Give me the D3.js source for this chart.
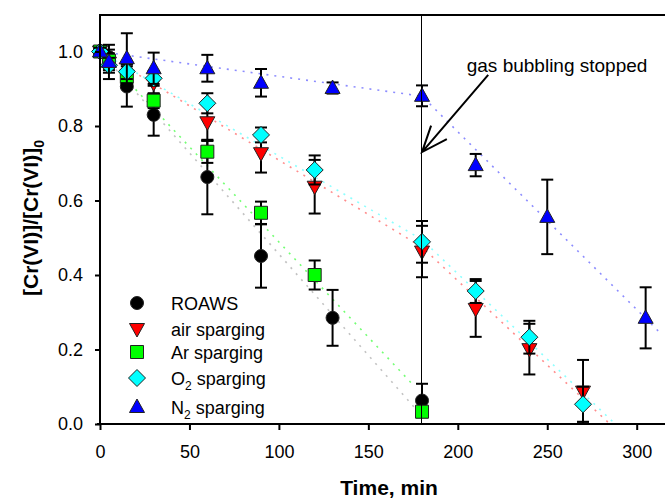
<!DOCTYPE html>
<html>
<head>
<meta charset="utf-8">
<script src="https://cdn.jsdelivr.net/npm/d3@7"></script>
<style>
  html, body { margin: 0; padding: 0; background: #fff; }
  svg { display: block; font-family: "Liberation Sans", Arial, sans-serif; }
</style>
</head>
<body>
<svg id="chart" width="665" height="500"></svg>
<script>
// Cr(VI) reduction under different sparging gases: normalised concentration vs. time

const seriesNames = ["ROAWS", "air sparging", "Ar sparging", "O2 sparging", "N2 sparging"];
const seriesColors = ["#000000", "#ff0000", "#00ff00", "#00ffff", "#0000ff"];
const seriesShapes = ["circle", "triangleDown", "square", "diamond", "triangleUp"];

// measured points (time in min, C/C0, error half-width)
const timeROAWS = [0, 5, 15, 30, 60, 90, 130, 180];
const valROAWS  = [1.0, 0.985, 0.906, 0.83, 0.663, 0.451, 0.285, 0.063];
const errROAWS  = [0.01, 0.02, 0.054, 0.056, 0.10, 0.085, 0.075, 0.045];

const timeAir = [0, 5, 15, 30, 60, 90, 120, 180, 210, 240, 270];
const valAir  = [1.0, 0.97, 0.935, 0.915, 0.81, 0.727, 0.637, 0.463, 0.309, 0.201, 0.087];
const errAir  = [0.01, 0.02, 0.03, 0.03, 0.05, 0.052, 0.072, 0.069, 0.075, 0.068, 0.085];

const timeAr = [0, 5, 15, 30, 60, 90, 120, 180];
const valAr  = [1.0, 0.975, 0.932, 0.868, 0.731, 0.567, 0.40, 0.033];
const errAr  = [0.01, 0.02, 0.02, 0.02, 0.03, 0.03, 0.039, 0.012];

const timeO2 = [0, 5, 15, 30, 60, 90, 120, 180, 210, 240, 270];
const valO2  = [1.0, 0.963, 0.946, 0.928, 0.861, 0.776, 0.682, 0.489, 0.357, 0.233, 0.053];
const errO2  = [0.01, 0.02, 0.02, 0.02, 0.027, 0.02, 0.039, 0.056, 0.032, 0.044, 0.047];

const timeN2 = [0, 5, 15, 30, 60, 90, 130, 180, 210, 250, 305];
const valN2  = [1.0, 0.972, 0.982, 0.955, 0.955, 0.916, 0.902, 0.881, 0.695, 0.556, 0.285];
const errN2  = [0.01, 0.046, 0.067, 0.042, 0.036, 0.037, 0.015, 0.028, 0.03, 0.1, 0.082];

// fitted trend lines (time, C/C0)
const fitTimeROAWS = [0, 176];       const fitValROAWS = [1.0, 0.043];
const fitTimeAir   = [0, 180, 285];  const fitValAir   = [1.0, 0.475, 0.0];
const fitTimeAr    = [0, 176];       const fitValAr    = [1.0, 0.10];
const fitTimeO2    = [0, 180, 288];  const fitValO2    = [1.0, 0.495, 0.0];
const fitTimeN2    = [0, 180, 312];  const fitValN2    = [1.0, 0.88, 0.25];

const xTicks = [0, 50, 100, 150, 200, 250, 300];
const yTicks = [0.0, 0.2, 0.4, 0.6, 0.8, 1.0];

const stopTime = 180;
const annotationText = "gas bubbling stopped";
const annotationTextPos = [205, 0.945];
const arrowFrom = [217, 0.937];
const arrowTo = [180, 0.73];

const series = [
  { t: timeROAWS, v: valROAWS, e: errROAWS, ft: fitTimeROAWS, fv: fitValROAWS },
  { t: timeAir,   v: valAir,   e: errAir,   ft: fitTimeAir,   fv: fitValAir },
  { t: timeAr,    v: valAr,    e: errAr,    ft: fitTimeAr,    fv: fitValAr },
  { t: timeO2,    v: valO2,    e: errO2,    ft: fitTimeO2,    fv: fitValO2 },
  { t: timeN2,    v: valN2,    e: errN2,    ft: fitTimeN2,    fv: fitValN2 }
].map((s, i) => ({
  name: seriesNames[i], color: seriesColors[i], shape: seriesShapes[i],
  points: s.t.map((t, j) => ({ t, v: s.v[j], e: s.e[j] })),
  fit: s.ft.map((t, j) => ({ t, v: s.fv[j] }))
}));

const svg = d3.select("#chart");
const plotLeft = 100, plotTop = 15, plotBottom = 424;
const x = d3.scaleLinear().domain([0, 320]).range([plotLeft, plotLeft + 320 * (536.7 / 300)]);
const y = d3.scaleLinear().domain([0, 1.1]).range([plotBottom, plotBottom - 1.1 * 372.5]);

// marker path generator
function markerPath(shape) {
  switch (shape) {
    case "circle": return d3.symbol(d3.symbolCircle, Math.PI * 6.5 * 6.5)();
    case "square": return "M-6.5,-6.5H6.5V6.5H-6.5Z";
    case "diamond": return "M0,-8.5L8.5,0L0,8.5L-8.5,0Z";
    case "triangleUp": return "M0,-8L7.5,5.5L-7.5,5.5Z";
    case "triangleDown": return "M0,8L7.5,-5.5L-7.5,-5.5Z";
  }
}

// trend lines
const line = d3.line().x(d => x(d.t)).y(d => y(d.v));
const fits = svg.append("g").attr("class", "fits");
series.forEach((s, i) => {
  fits.append("path")
    .datum(s.fit)
    .attr("d", line)
    .attr("fill", "none")
    .attr("stroke", s.color === "#000000" ? "#777" : s.color)
    .attr("stroke-opacity", s.color === "#00ff00" ? 0.55 : 0.45)
    .attr("stroke-width", 1.6)
    .attr("stroke-dasharray", "2,6")
    .attr("stroke-dashoffset", i * 2);
});

// error bars and markers
series.forEach(s => {
  const g = svg.append("g").attr("class", "series");
  const eb = g.selectAll("g.eb").data(s.points).join("g").attr("class", "eb")
    .attr("stroke", "#000").attr("stroke-width", 2);
  eb.append("line")
    .attr("x1", d => x(d.t)).attr("x2", d => x(d.t))
    .attr("y1", d => y(d.v + d.e)).attr("y2", d => y(d.v - d.e));
  eb.append("line")
    .attr("x1", d => x(d.t) - 6).attr("x2", d => x(d.t) + 6)
    .attr("y1", d => y(d.v + d.e)).attr("y2", d => y(d.v + d.e));
  eb.append("line")
    .attr("x1", d => x(d.t) - 6).attr("x2", d => x(d.t) + 6)
    .attr("y1", d => y(d.v - d.e)).attr("y2", d => y(d.v - d.e));
  g.selectAll("path.mk").data(s.points).join("path").attr("class", "mk")
    .attr("d", markerPath(s.shape))
    .attr("transform", d => `translate(${x(d.t)},${y(d.v)})`)
    .attr("fill", s.color)
    .attr("stroke", "#222")
    .attr("stroke-width", 1);
});

// vertical marker where gas bubbling stopped
svg.append("line")
  .attr("x1", Math.round(x(stopTime)) - 0.5).attr("x2", Math.round(x(stopTime)) - 0.5)
  .attr("y1", plotTop).attr("y2", plotBottom)
  .attr("stroke", "#000").attr("stroke-width", 1);

// axes
const xAxis = svg.append("g")
  .attr("transform", `translate(0,${plotBottom})`)
  .call(d3.axisBottom(x).tickValues(xTicks).tickSize(6).tickSizeOuter(0).tickPadding(15).tickFormat(d3.format("d")));
const yAxis = svg.append("g")
  .attr("transform", `translate(${plotLeft},0)`)
  .call(d3.axisLeft(y).tickValues(yTicks).tickSize(5).tickSizeOuter(0).tickPadding(12).tickFormat(d3.format(".1f")));
[xAxis, yAxis].forEach(a => {
  a.select(".domain").attr("stroke", "#000").attr("stroke-width", 2);
  a.selectAll(".tick line").attr("stroke", "#000").attr("stroke-width", 2);
  a.selectAll(".tick text").attr("fill", "#000").style("font-size", "18px")
    .style("font-family", "'Liberation Sans', Arial, sans-serif");
});
xAxis.select(".domain").attr("d", `M${plotLeft - 3},0H665`);
yAxis.select(".domain").attr("d", `M0,${plotBottom + 1}V${plotTop}`);

// top frame
svg.append("line")
  .attr("x1", plotLeft - 1).attr("x2", 665)
  .attr("y1", plotTop).attr("y2", plotTop)
  .attr("stroke", "#000").attr("stroke-width", 2);

// axis titles
svg.append("text")
  .attr("x", 389).attr("y", 495)
  .attr("text-anchor", "middle")
  .style("font-size", "21px").style("font-weight", "bold")
  .text("Time, min");

const yl = svg.append("text")
  .attr("transform", "translate(38,218) rotate(-90)")
  .attr("text-anchor", "middle")
  .style("font-size", "21px").style("font-weight", "bold");
yl.append("tspan").text("[Cr(VI)]/[Cr(VI)]");
yl.append("tspan").attr("dy", 6).style("font-size", "14px").text("0");

// annotation with arrow
svg.append("text")
  .attr("x", x(annotationTextPos[0])).attr("y", y(annotationTextPos[1]))
  .style("font-size", "19px")
  .text(annotationText);

const ax0 = x(arrowFrom[0]), ay0 = y(arrowFrom[1]);
const ax1 = x(arrowTo[0]), ay1 = y(arrowTo[1]);
const ang = Math.atan2(ay1 - ay0, ax1 - ax0);
const headLen = 28, headAng = 0.38;
svg.append("path")
  .attr("d", `M${ax0},${ay0}L${ax1},${ay1}` +
    `M${ax1 - headLen * Math.cos(ang - headAng)},${ay1 - headLen * Math.sin(ang - headAng)}L${ax1},${ay1}` +
    `L${ax1 - headLen * Math.cos(ang + headAng)},${ay1 - headLen * Math.sin(ang + headAng)}`)
  .attr("fill", "none").attr("stroke", "#000").attr("stroke-width", 2);

// legend
const legendRows = [303, 329, 352, 378, 407];
const legend = svg.append("g").attr("class", "legend");
series.forEach((s, i) => {
  legend.append("path")
    .attr("d", markerPath(s.shape))
    .attr("transform", `translate(137,${legendRows[i]})`)
    .attr("fill", s.color).attr("stroke", "#222").attr("stroke-width", 1);
  const t = legend.append("text")
    .attr("x", 171).attr("y", legendRows[i] + 6.5)
    .style("font-size", "18px");
  const m = s.name.match(/^([A-Za-z]+)2 (.*)$/);
  if (m) {
    t.append("tspan").text(m[1]);
    t.append("tspan").attr("dy", 5).style("font-size", "12px").text("2");
    t.append("tspan").attr("dy", -5).text(" " + m[2]);
  } else {
    t.text(s.name);
  }
});
</script>
</body>
</html>
